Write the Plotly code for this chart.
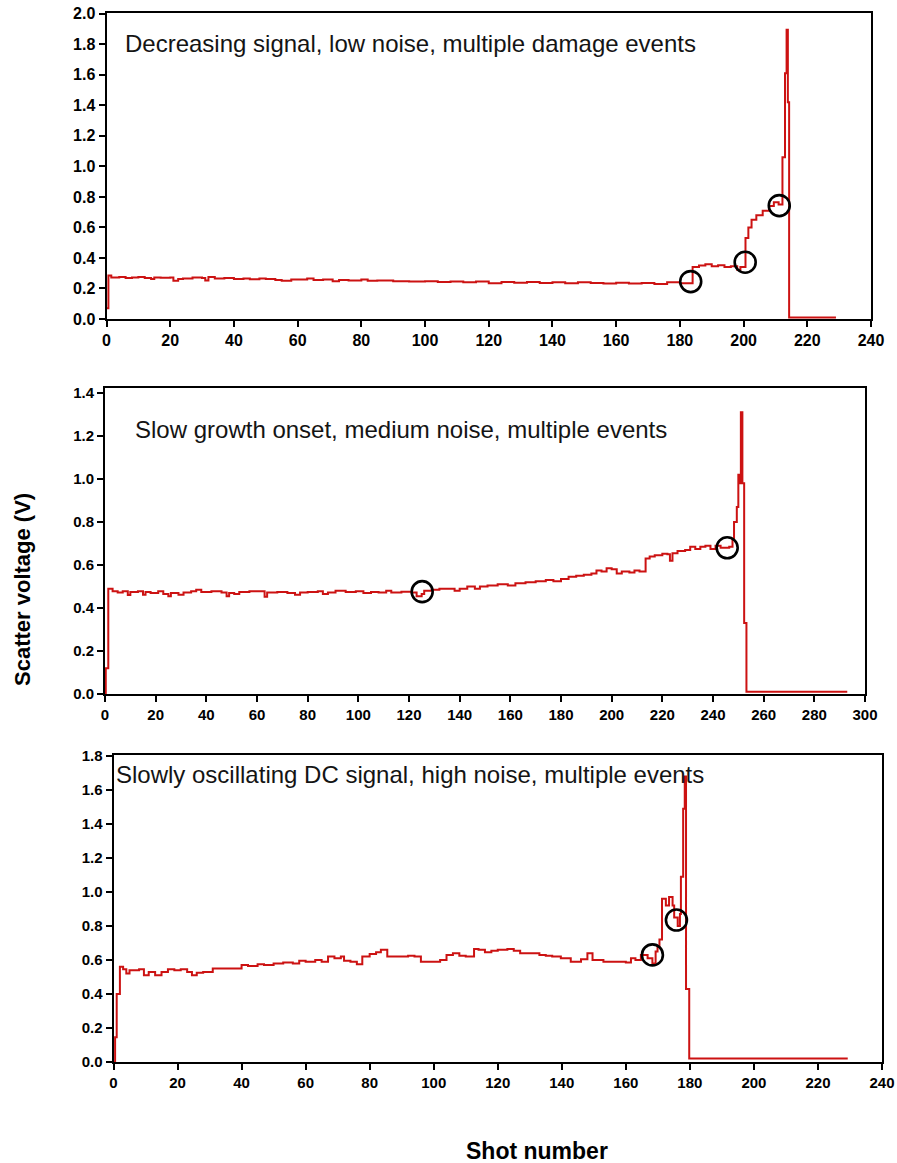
import plotly.graph_objects as go

# ---------------- data ----------------
# Panel A: Decreasing signal, low noise, multiple damage events
shots_a = [0, 0.6, 1.5, 4, 6, 8, 10, 12, 14, 15, 17, 20, 21, 22.5, 24, 27, 30, 31, 32, 34,
           37, 40, 43, 45, 48, 50, 53, 55, 58, 62, 63, 65, 68, 71, 73, 76, 80, 82, 85, 90,
           95, 100, 104, 108, 112, 116, 120, 124, 128, 132, 136, 140, 144, 148, 152, 156,
           160, 164, 168, 172, 176, 180, 184, 186, 188, 190, 192, 194, 196, 198, 199,
           200.6, 201.5, 202.5, 204, 206, 208, 209.5, 211, 212.2, 213, 213.5, 213.9, 214.3, 229]
volts_a = [0.07, 0.285, 0.272, 0.275, 0.268, 0.272, 0.275, 0.268, 0.262, 0.272, 0.27, 0.272,
           0.25, 0.262, 0.265, 0.272, 0.268, 0.252, 0.275, 0.265, 0.268, 0.262, 0.265, 0.26,
           0.265, 0.262, 0.255, 0.25, 0.258, 0.258, 0.265, 0.255, 0.258, 0.248, 0.255, 0.252,
           0.258, 0.25, 0.252, 0.248, 0.245, 0.248, 0.242, 0.245, 0.24, 0.245, 0.235, 0.242,
           0.238, 0.242, 0.236, 0.24, 0.234, 0.24, 0.236, 0.232, 0.238, 0.232, 0.236, 0.23,
           0.24, 0.234, 0.34, 0.35, 0.358, 0.345, 0.352, 0.34, 0.345, 0.322, 0.34,
           0.53, 0.6, 0.65, 0.68, 0.71, 0.74, 0.765, 0.75, 1.06, 1.61, 1.895, 1.42, 0.01, 0.01]
events_a_shot = [183.4, 200.5, 211.2]
events_a_volt = [0.245, 0.372, 0.743]

# Panel B: Slow growth onset, medium noise, multiple events
shots_b = [0, 0.3, 1.3, 3, 5, 7, 9, 10, 13, 15, 16, 18, 21, 23, 25, 26, 29, 31, 34, 36, 38,
           42, 46, 48, 49, 51, 53, 57, 61, 63, 64, 68, 72, 75, 77, 80, 84, 86, 88, 91, 95,
           99, 102, 105, 108, 111, 113, 117, 121, 123, 125, 126, 129, 132, 136, 138, 140,
           143, 146, 148, 151, 155, 159, 162, 166, 170, 174, 177, 180, 183, 186, 189, 192,
           194, 196, 198, 200, 202, 204, 207, 209, 211, 213.4, 215, 217, 220, 222, 223, 224,
           226, 229, 231, 233, 235, 237, 239, 241, 243, 246.4, 247.7, 248.3, 249.4, 250,
           250.5, 251, 251.6, 252.3, 253.2, 293]
volts_b = [0.0, 0.12, 0.49, 0.478, 0.472, 0.478, 0.46, 0.475, 0.478, 0.462, 0.475, 0.47,
           0.478, 0.465, 0.455, 0.47, 0.462, 0.472, 0.478, 0.485, 0.475, 0.478, 0.472, 0.455,
           0.47, 0.465, 0.475, 0.478, 0.478, 0.452, 0.472, 0.475, 0.47, 0.462, 0.472, 0.475,
           0.478, 0.465, 0.472, 0.48, 0.475, 0.478, 0.47, 0.475, 0.472, 0.48, 0.472, 0.476,
           0.472, 0.455, 0.465, 0.48, 0.485, 0.49, 0.49, 0.48, 0.49, 0.5, 0.49, 0.5, 0.505,
           0.51, 0.505, 0.515, 0.52, 0.525, 0.53, 0.525, 0.535, 0.545, 0.55, 0.555, 0.56,
           0.575, 0.57, 0.585, 0.58, 0.56, 0.57, 0.565, 0.575, 0.57, 0.63, 0.64, 0.645, 0.652,
           0.65, 0.62, 0.655, 0.665, 0.67, 0.685, 0.675, 0.685, 0.69, 0.675, 0.69, 0.68,
           0.685, 0.716, 0.80, 0.87, 1.02, 0.98, 1.31, 0.98, 0.33, 0.01, 0.01]
events_b_shot = [125.2, 245.6]
events_b_volt = [0.476, 0.68]

# Panel C: Slowly oscillating DC signal, high noise, multiple events
shots_c = [0, 0.5, 1, 2, 3, 4, 5, 8, 9.5, 11, 13, 15, 17, 19, 21, 23, 24.5, 26, 28, 31, 35,
           38, 40, 42, 45, 47, 50, 53, 56, 58, 60, 63, 65, 67, 69, 71, 72, 74, 76, 77.7, 80,
           82, 83.5, 85.5, 89, 92, 94, 96, 100, 102, 104, 106, 108, 110, 112.6, 114, 116,
           118, 120, 123, 125, 127, 130, 133, 135, 137, 139.7, 142.8, 146, 148, 149.6, 153,
           158, 160, 161.6, 163, 164.7, 166.8, 168.3, 169.3, 169.9, 170.5, 171.3, 172.5,
           173.5, 174.6, 175.1, 176.2, 176.9, 177.2, 177.9, 178.4, 178.8, 179.8, 229.3]
volts_c = [0.0, 0.145, 0.40, 0.56, 0.545, 0.52, 0.54, 0.545, 0.51, 0.53, 0.51, 0.53, 0.545,
           0.54, 0.545, 0.53, 0.51, 0.525, 0.53, 0.55, 0.55, 0.55, 0.57, 0.565, 0.575, 0.57,
           0.58, 0.585, 0.58, 0.595, 0.59, 0.6, 0.59, 0.62, 0.61, 0.62, 0.595, 0.59, 0.575,
           0.62, 0.635, 0.645, 0.66, 0.62, 0.62, 0.625, 0.62, 0.59, 0.59, 0.6, 0.63, 0.64,
           0.625, 0.62, 0.665, 0.66, 0.645, 0.655, 0.66, 0.665, 0.655, 0.64, 0.64, 0.63,
           0.625, 0.62, 0.61, 0.59, 0.605, 0.64, 0.6, 0.59, 0.59, 0.585, 0.61, 0.6, 0.63,
           0.61, 0.58, 0.65, 0.68, 0.72, 0.96, 0.92, 0.97, 0.92, 0.85, 0.80, 0.87, 1.09,
           1.49, 1.68, 0.43, 0.02, 0.02]
events_c_shot = [168.3, 175.8]
events_c_volt = [0.63, 0.835]

titles = ["Decreasing signal, low noise, multiple damage events",
          "Slow growth onset, medium noise, multiple events",
          "Slowly oscillating DC signal, high noise, multiple events"]
x_ranges = [[0, 240], [0, 300], [0, 240]]
y_ranges = [[0, 2.005], [0, 1.4233], [0, 1.806]]
x_dtick = [20, 20, 20]
y_dtick = [0.2, 0.2, 0.2]

# ---------------- figure ----------------
W, H = 897, 1163
RED = "#cc1212"
fig = go.Figure()


def px(v):
    return v / W


def py(v):
    return 1 - v / H


series = [(shots_a, volts_a, events_a_shot, events_a_volt),
          (shots_b, volts_b, events_b_shot, events_b_volt),
          (shots_c, volts_c, events_c_shot, events_c_volt)]

# page-pixel boxes (left, right, top, bottom) for the three panels
boxes = [(106.5, 871, 13, 319), (105, 865, 388, 694), (113.5, 882, 755, 1062)]
title_pos = [(123, 44), (133, 429), (114, 774)]
tick_sizes = [16, 15, 15]

for i, (sx, sy, ex, ey) in enumerate(series):
    n = "" if i == 0 else str(i + 1)
    fig.add_trace(go.Scatter(x=sx, y=sy, mode="lines", line=dict(color=RED, width=2, shape="hv"),
                             xaxis="x" + n, yaxis="y" + n, showlegend=False, hoverinfo="skip"))
    fig.add_trace(go.Scatter(x=ex, y=ey, mode="markers",
                             marker=dict(symbol="circle-open", size=21, color="black",
                                         line=dict(width=2.6, color="black")),
                             xaxis="x" + n, yaxis="y" + n, showlegend=False, hoverinfo="skip"))
    l, r, t, b = boxes[i]
    tickfont = dict(family="Liberation Sans, Arial", size=tick_sizes[i], color="black",
                    weight="bold")
    axcommon = dict(showline=True, linewidth=2, linecolor="black", mirror=True,
                    ticks="outside", ticklen=6, tickwidth=2, tickcolor="black",
                    showgrid=False, zeroline=False, tickfont=tickfont, automargin=False)
    fig.layout["xaxis" + n] = dict(axcommon, domain=[px(l), px(r)], range=x_ranges[i],
                                   dtick=x_dtick[i], tick0=0, anchor="y" + n)
    fig.layout["yaxis" + n] = dict(axcommon, domain=[py(b), py(t)], range=y_ranges[i],
                                   dtick=y_dtick[i], tick0=0, tickformat=".1f", anchor="x" + n)
    tx, ty = title_pos[i]
    fig.add_annotation(text=titles[i], x=px(tx), y=py(ty), xref="paper", yref="paper",
                       xanchor="left", yanchor="middle", showarrow=False,
                       font=dict(family="Liberation Sans, Arial", size=24, color="#141414"))

fig.add_annotation(text="<b>Scatter voltage (V)</b>", x=px(22), y=py(590), xref="paper",
                   yref="paper", textangle=-90, showarrow=False, xanchor="center",
                   yanchor="middle", font=dict(family="Liberation Sans, Arial", size=22,
                                               color="black"))
fig.add_annotation(text="<b>Shot number</b>", x=px(537), y=py(1151), xref="paper",
                   yref="paper", showarrow=False, xanchor="center", yanchor="middle",
                   font=dict(family="Liberation Sans, Arial", size=23, color="black"))

fig.update_layout(width=W, height=H, margin=dict(l=0, r=0, t=0, b=0, autoexpand=False),
                  paper_bgcolor="white", plot_bgcolor="white", showlegend=False)

fig.write_html("out.html", config={"displayModeBar": False},
               post_script="document.body.style.margin='0';document.body.style.overflow='hidden';")
